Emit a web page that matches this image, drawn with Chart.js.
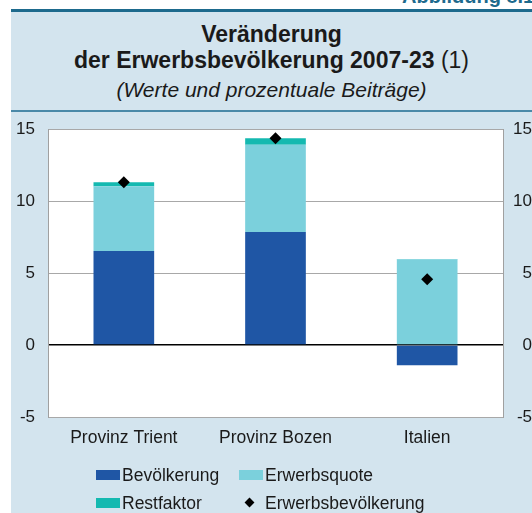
<!DOCTYPE html>
<html>
<head>
<meta charset="utf-8">
<script src="https://cdn.jsdelivr.net/npm/chart.js@4/dist/chart.umd.min.js"></script>
<style>
  html, body { margin: 0; padding: 0; background: #ffffff; }
  body { width: 532px; height: 513px; position: relative; overflow: hidden;
         font-family: "Liberation Sans", Arial, sans-serif; }
  #panel { position: absolute; left: 11px; top: 9px; right: 0; bottom: 0; background: #d3e4ee; }
  #topRule { position: absolute; left: 11px; right: 0; top: 9px; height: 3px; background: #1d6a8d; }
  #midRule { position: absolute; left: 11px; right: 0; top: 110px; height: 2px; background: #4a89a8; }
  #fig { position: absolute; left: 402px; top: -14px; font-size: 20px; font-weight: bold;
         color: #1d6a8d; line-height: 20px; white-space: nowrap; }
  .t { position: absolute; left: 11px; right: 0; text-align: center; color: #1a1a1a; white-space: nowrap; }
  #t1 { top: 23px; font-size: 23px; line-height: 23px; font-weight: bold; }
  #t2 { top: 49px; font-size: 23px; line-height: 23px; font-weight: bold; }
  #t2 span { font-weight: normal; }
  #t3 { top: 79px; font-size: 21px; line-height: 21px; font-style: italic; }
  #chartBox { position: absolute; left: 0; top: 112px; width: 532px; height: 401px; }
  .lg { position: absolute; font-size: 17.5px; line-height: 20px; color: #1a1a1a; white-space: nowrap; }
  .sw { position: absolute; width: 24px; height: 10px; }
  .dm { position: absolute; width: 7px; height: 7px; background: #000; transform: rotate(45deg); }
</style>
</head>
<body>
<div id="panel"></div>
<div id="fig">Abbildung 8.1</div>
<div id="topRule"></div>
<div id="midRule"></div>
<div class="t" id="t1">Veränderung</div>
<div class="t" id="t2">der Erwerbsbevölkerung 2007-23 <span>(1)</span></div>
<div class="t" id="t3">(Werte und prozentuale Beiträge)</div>
<div id="chartBox"><canvas id="c" width="532" height="401"></canvas></div>
<div id="legend"></div>
<script>
// Regions and contributions (percentage points)
const categories = ['Provinz Trient', 'Provinz Bozen', 'Italien'];
const bevoelkerung = [6.53, 7.85, -1.41];
const erwerbsquote = [4.5, 6.05, 5.95];
const restfaktor = [0.27, 0.45, 0.02];
const erwerbsbevoelkerung = [11.3, 14.35, 4.56];
const yTicks = [-5, 0, 5, 10, 15];

const colBev = '#1f56a5';
const colQuote = '#7bd0dc';
const colRest = '#14b9b0';

const font = { family: '"Liberation Sans", Arial, sans-serif', size: 17 };

const plotBg = {
  id: 'plotBg',
  beforeDraw(chart) {
    const a = chart.chartArea, ctx = chart.ctx;
    ctx.save();
    ctx.fillStyle = '#ffffff';
    ctx.fillRect(a.left, a.top, a.right - a.left, a.bottom - a.top);
    ctx.restore();
  }
};

// fixed box size for a vertical axis, without extra label padding
function fixWidth(w) {
  return s => { s.width = w; s.paddingTop = 0; s.paddingBottom = 0; };
}

const chart = new Chart(document.getElementById('c'), {
  type: 'bar',
  data: {
    labels: categories,
    datasets: [
      { type: 'line', label: 'Erwerbsbevölkerung', data: erwerbsbevoelkerung, stack: 'total',
        showLine: false, pointStyle: 'rectRot', pointRadius: 6, pointBackgroundColor: '#000',
        pointBorderColor: '#000', pointBorderWidth: 0, order: 0 },
      { label: 'Bevölkerung', data: bevoelkerung, backgroundColor: colBev, stack: 'parts', order: 1,
        borderWidth: 0 },
      { label: 'Erwerbsquote', data: erwerbsquote, backgroundColor: colQuote, stack: 'parts', order: 1,
        borderWidth: 0 },
      { label: 'Restfaktor', data: restfaktor, backgroundColor: colRest, stack: 'parts', order: 1,
        borderWidth: 0 }
    ]
  },
  options: {
    responsive: false,
    animation: false,
    layout: { autoPadding: false, padding: { top: 17, bottom: 56, left: 0, right: 0 } },
    datasets: { bar: { categoryPercentage: 0.8, barPercentage: 0.5 } },
    plugins: { legend: { display: false }, tooltip: { enabled: false } },
    scales: {
      x: {
        stacked: true,
        grid: { display: false, drawTicks: false },
        border: { display: false },
        ticks: { color: '#1a1a1a', font: { ...font, size: 17.5 }, padding: 11, maxRotation: 0 },
        afterFit(s) { s.height = 40; s.paddingLeft = 0; s.paddingRight = 0; }
      },
      y: {
        stacked: true, position: 'left', min: -5, max: 15,
        afterBuildTicks(s) { s.ticks = yTicks.map(v => ({ value: v })); },
        grid: {
          drawTicks: false,
          color: c => c.tick && c.tick.value === 0 ? '#000000' : '#a8a8a8',
          lineWidth: c => c.tick && c.tick.value === 0 ? 1.5 : 1
        },
        border: { display: true, color: '#a0a0a0', width: 1 },
        ticks: { color: '#1a1a1a', font, padding: 13 },
        afterFit: fixWidth(48)
      },
      y2: {
        position: 'right', min: -5, max: 15,
        afterBuildTicks(s) { s.ticks = yTicks.map(v => ({ value: v })); },
        grid: { display: false, drawTicks: false },
        border: { display: true, color: '#a0a0a0', width: 1 },
        ticks: { color: '#1a1a1a', font, padding: 8, crossAlign: 'far' },
        afterFit: fixWidth(29)
      }
    }
  },
  plugins: [plotBg]
});

// Legend, built from the chart's datasets
const legendLayout = {
  'Bevölkerung': [96, 475],
  'Erwerbsquote': [239, 475],
  'Restfaktor': [96, 503],
  'Erwerbsbevölkerung': [239, 503]
};
const lg = document.getElementById('legend');
chart.data.datasets.forEach(ds => {
  const [x, y] = legendLayout[ds.label];
  if (ds.type === 'line') {
    const d = document.createElement('div');
    d.className = 'dm';
    d.style.left = (x + 7) + 'px';
    d.style.top = (y - 4) + 'px';
    lg.appendChild(d);
  } else {
    const s = document.createElement('div');
    s.className = 'sw';
    s.style.left = x + 'px';
    s.style.top = (y - 5) + 'px';
    s.style.background = ds.backgroundColor;
    lg.appendChild(s);
  }
  const t = document.createElement('div');
  t.className = 'lg';
  t.textContent = ds.label;
  t.style.left = (x + 26) + 'px';
  t.style.top = (y - 10) + 'px';
  lg.appendChild(t);
});
</script>
</body>
</html>
